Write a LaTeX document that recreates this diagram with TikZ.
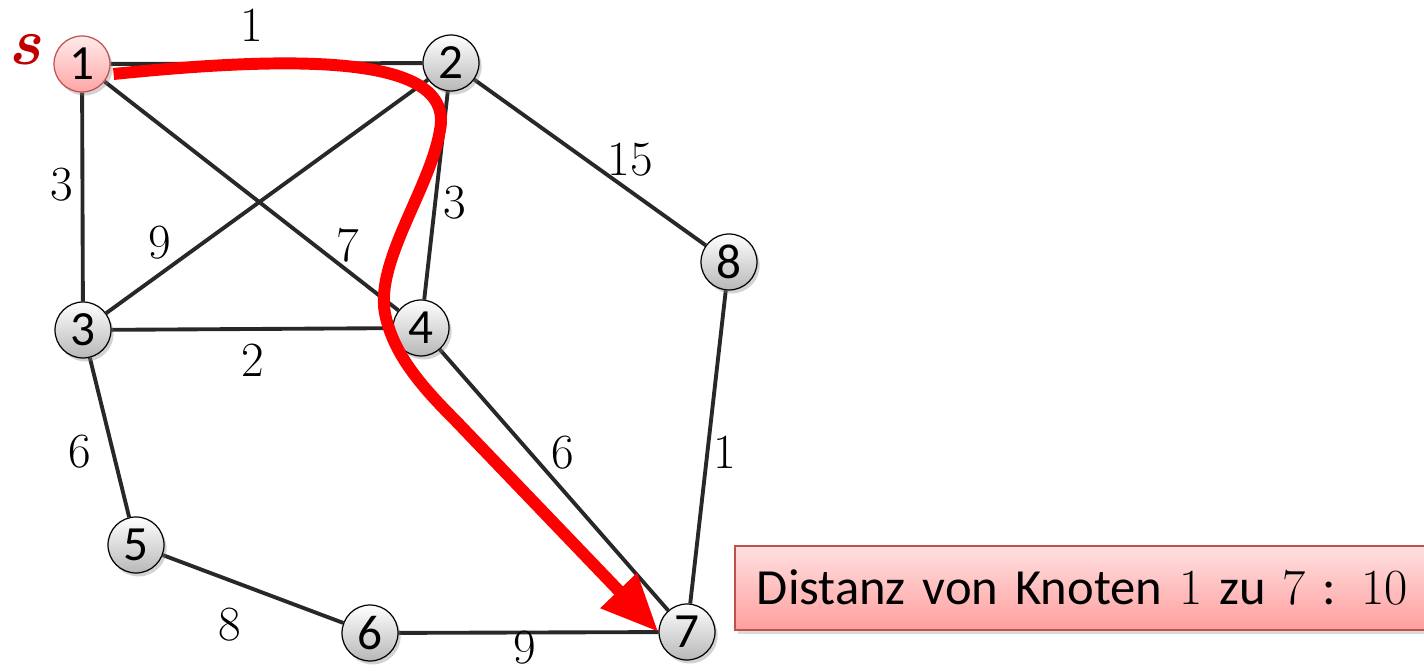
\documentclass[tikz,border=0pt]{standalone}
\usepackage{fontspec}
\newfontfamily\calib{Carlito}
\usetikzlibrary{arrows.meta,shadows,backgrounds}
\definecolor{pathred}{RGB}{255,0,0}
\definecolor{sred}{RGB}{192,0,0}
\definecolor{edgegray}{RGB}{40,40,40}
\definecolor{boxline}{RGB}{192,80,77}

\begin{document}
\begin{tikzpicture}[x=0.02cm,y=-0.02cm,
    vertex/.style={circle,draw=black,line width=0.7pt,minimum size=1.12cm,inner sep=0pt,
      top color=white,bottom color=black!28,font=\calib\fontsize{28}{30}\selectfont,
      drop shadow={shadow xshift=1.5pt,shadow yshift=-2pt,opacity=0.35}},
    start/.style={vertex,draw=boxline,top color=red!8,bottom color=red!35},
    edge/.style={draw=edgegray,line width=2.2pt},
    wlabel/.style={font=\fontsize{28}{30}\selectfont,inner sep=0pt},
    info/.style={draw=boxline,line width=1pt,top color=red!12,bottom color=red!38,
      anchor=west,text width=14cm,align=left,minimum height=1.68cm,inner xsep=0.44cm,inner ysep=0pt,
      font=\calib\fontsize{28.8}{31}\selectfont,
      drop shadow={shadow xshift=1.5pt,shadow yshift=-2pt,opacity=0.3}}]
  \useasboundingbox (0,0) rectangle (1424,671);
  % Knoten
  \node[start]  (n1) at (82,64)   {1};
  \node[vertex] (n2) at (451,63)  {2};
  \node[vertex] (n3) at (83,330)  {3};
  \node[vertex] (n4) at (421,328) {4};
  \node[vertex] (n5) at (136,545) {5};
  \node[vertex] (n6) at (370,633) {6};
  \node[vertex] (n7) at (687,632) {7};
  \node[vertex] (n8) at (729,262) {8};
  \node[text=sred,font=\fontsize{38}{40}\selectfont\bfseries\itshape] (src) at (25,50) {s};
  % Kanten
  \begin{scope}[on background layer]
    \foreach \a/\b in {n1/n2,n1/n3,n1/n4,n2/n3,n2/n4,n2/n8,n3/n4,n3/n5,n4/n7,n5/n6,n6/n7,n7/n8}
      \path[edge] (\a) -- (\b);
  \end{scope}
  % Gewichte
  \node[wlabel] (w12) at (252,25)  {1};
  \node[wlabel] (w13) at (62,185)  {3};
  \node[wlabel] (w23) at (160,243) {9};
  \node[wlabel] (w14) at (348,245) {7};
  \node[wlabel] (w24) at (455,203) {3};
  \node[wlabel] (w28) at (630,160) {15};
  \node[wlabel] (w34) at (253,360) {2};
  \node[wlabel] (w35) at (80,452)  {6};
  \node[wlabel] (w47) at (563,453) {6};
  \node[wlabel] (w78) at (725,452) {1};
  \node[wlabel] (w56) at (230,625) {8};
  \node[wlabel] (w67) at (525,648) {9};
  % kuerzester Weg
  \draw[pathred,line width=6.8pt,-{Triangle[length=1.15cm,width=0.95cm]}]
    (n1.east) ++(3,10) .. controls (300,55) and (455,55) .. (440,130)
    .. controls (430,190) and (372,265) .. (386,318)
    .. controls (395,355) and (420,385) .. (455,420) -- (n7.west);
  % Ergebnis
  \node[info] (res) at (734,588) {Distanz von Knoten {\rmfamily 1} zu {\rmfamily 7} : {\rmfamily 10}};
\end{tikzpicture}
\end{document}
